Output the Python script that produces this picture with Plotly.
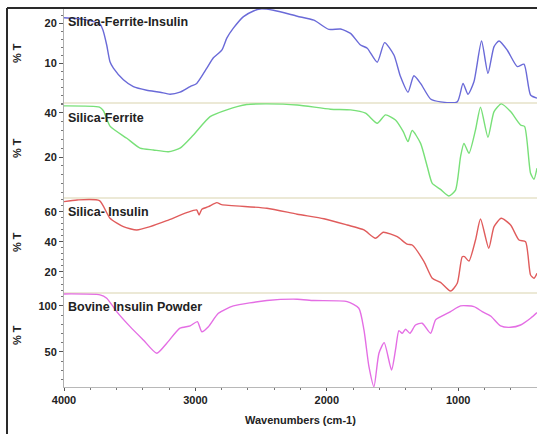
import plotly.graph_objects as go

# ---------------- data ----------------
wn_sfi = [4000, 3850, 3726, 3703, 3675, 3650, 3624, 3548, 3472, 3370, 3269, 3193, 3117, 3040, 2990,
          2913, 2863, 2799, 2761, 2711, 2634, 2558, 2507, 2406, 2225, 2098, 1984, 1895, 1819, 1743,
          1692, 1616, 1560, 1489, 1439, 1382, 1337, 1286, 1210, 1134, 1007, 963, 925, 880, 822, 773,
          727, 689, 626, 550, 499, 449, 400]
t_sfi = [21.3, 20.9, 19.7, 18.2, 14.5, 10.3, 8.7, 5.8, 4.1, 3.2, 2.7, 2.2, 2.7, 4.1, 4.9,
         8.7, 11.3, 13.2, 16.2, 18.7, 21.6, 23.0, 23.5, 23.2, 21.7, 20.7, 18.4, 18.5, 17.4, 14.5,
         13.7, 10.2, 15.1, 12.0, 6.6, 2.7, 6.8, 4.9, 1.0, 0.3, 0.3, 4.9, 2.2, 5.3, 15.5, 7.4,
         14.1, 15.5, 13.2, 9.1, 9.7, 2.0, 1.2]

wn_sf = [4000, 3730, 3700, 3650, 3522, 3421, 3320, 3205, 3117, 3015, 2888, 2761, 2609, 2456, 2225,
         1972, 1819, 1705, 1616, 1553, 1477, 1418, 1382, 1350, 1286, 1235, 1197, 1134, 1070, 1020,
         982, 956, 918, 868, 830, 773, 727, 672, 601, 525, 494, 449, 423, 400]
t_sf = [43.2, 42.6, 41.0, 34.0, 28.5, 24.0, 23.2, 22.4, 24.0, 30.0, 38.3, 41.4, 43.8, 44.1, 43.6,
        41.7, 41.4, 39.9, 35.3, 39.1, 36.8, 31.5, 27.0, 32.0, 26.2, 15.6, 8.0, 5.3, 2.3, 5.0,
        20.1, 26.2, 21.7, 32.3, 42.6, 29.0, 40.6, 44.1, 40.6, 34.5, 33.8, 12.6, 9.9, 14.9]

wn_si = [4000, 3900, 3730, 3650, 3548, 3446, 3345, 3218, 3066, 2990, 2972, 2951, 2901, 2837, 2800,
         2456, 2225, 2022, 1845, 1717, 1629, 1570, 1464, 1388, 1350, 1260, 1197, 1134, 1058, 1007,
         969, 951, 918, 868, 830, 767, 727, 672, 601, 537, 487, 449, 423, 400]
t_si = [66.9, 68.0, 67.5, 55.8, 50.2, 48.0, 50.2, 54.2, 59.5, 61.3, 58.0, 61.8, 63.5, 66.2, 64.9,
        62.5, 58.5, 55.5, 51.3, 48.0, 42.5, 46.5, 43.5, 38.5, 38.0, 26.9, 15.8, 13.1, 7.3, 12.5,
        30.2, 30.2, 27.3, 41.3, 55.3, 35.8, 50.2, 55.8, 51.3, 41.3, 40.2, 18.0, 15.8, 19.1]

wn_bi = [4000, 3726, 3675, 3599, 3497, 3396, 3294, 3218, 3117, 3040, 2985, 2951, 2901, 2825, 2711,
         2456, 2225, 2098, 1845, 1756, 1717, 1679, 1641, 1603, 1563, 1507, 1477, 1451, 1426, 1401,
         1367, 1325, 1274, 1210, 1172, 1121, 1058, 982, 880, 817, 753, 677, 601, 525, 449, 400]
t_bi = [113.0, 112.0, 108.4, 93.8, 77.5, 63.0, 48.6, 59.5, 75.8, 78.3, 83.0, 72.0, 77.5, 92.0, 100.0,
        105.8, 107.3, 105.8, 104.7, 97.5, 73.9, 34.0, 12.3, 48.6, 60.1, 30.4, 52.2, 73.2, 70.3, 74.7,
        70.3, 79.3, 81.2, 70.3, 84.8, 89.1, 93.8, 100.0, 99.2, 93.8, 89.1, 78.3, 76.8, 79.3, 86.6, 92.7]

labels = ["Silica-Ferrite-Insulin", "Silica-Ferrite", "Silica- Insulin", "Bovine Insulin Powder"]
x_ticks = [4000, 3000, 2000, 1000]
y_ticks = [[10, 20], [20, 40], [20, 40, 60], [50, 100]]
x_title = "Wavenumbers (cm-1)"
y_title = "% T"

# ---------------- figure ----------------
FONT = "Liberation Sans, Arial, sans-serif"
colors = ["#6a6ad8", "#78e078", "#e05c5c", "#e46ee4"]
series = [(wn_sfi, t_sfi), (wn_sf, t_sf), (wn_si, t_si), (wn_bi, t_bi)]
yrefs = ["y4", "y3", "y2", "y"]   # top panel uses y4

fig = go.Figure()
for (wx, wy), c, yr in zip(series, colors, yrefs):
    fig.add_trace(go.Scatter(x=wx, y=wy, mode="lines", yaxis=yr, xaxis="x",
                             line=dict(color=c, width=1.4, shape="spline", smoothing=0.6),
                             showlegend=False, hoverinfo="skip"))

tickfont = dict(family=FONT, size=11, color="#222", weight="bold")
domains = {"y": [0, 0.248], "y2": [0.248, 0.4987], "y3": [0.4987, 0.7493], "y4": [0.7493, 1]}
ranges = {"y": [12, 114], "y2": [6, 69.3], "y3": [1.4, 44.5], "y4": [0, 23.75]}
tvals = {"y": y_ticks[3], "y2": y_ticks[2], "y3": y_ticks[1], "y4": y_ticks[0]}
minors = {"y": 10, "y2": 4, "y3": 4, "y4": 2}

for key in ["y", "y2", "y3", "y4"]:
    name = "yaxis" if key == "y" else "yaxis" + key[1:]
    fig.layout[name] = dict(domain=domains[key], range=ranges[key], anchor="x",
                            tickvals=tvals[key], ticks="outside", ticklen=4, tickcolor="#555",
                            showline=True, linecolor="#b0b0b0", linewidth=1,
                            showgrid=False, zeroline=False, tickfont=tickfont,
                            minor=dict(dtick=minors[key], tick0=0, ticks="outside", ticklen=2,
                                       tickcolor="#777", showgrid=False))

fig.update_layout(
    xaxis=dict(range=[4000, 400], anchor="y", tickvals=x_ticks, ticks="outside", ticklen=3,
               tickcolor="#555", showline=True, linecolor="#b8b8b8", linewidth=1,
               showgrid=False, zeroline=False, tickfont=tickfont,
               minor=dict(dtick=200, tick0=0, ticks="outside", ticklen=2, tickcolor="#777",
                          showgrid=False)),
    width=537, height=434, autosize=False,
    margin=dict(l=64, r=0, t=8, b=47),
    paper_bgcolor="white", plot_bgcolor="white",
)

# panel separators
for yp in [0.7493, 0.4987, 0.248]:
    fig.add_shape(type="line", xref="paper", yref="paper", x0=0, x1=1, y0=yp, y1=yp,
                  line=dict(color="#e6e2c8", width=1.5), layer="below")
# outer frame (top and left)
fig.add_shape(type="line", xref="paper", yref="paper", x0=-0.1205, x1=1.01, y0=1, y1=1,
              line=dict(color="#2a2a2a", width=2))
fig.add_shape(type="line", xref="paper", yref="paper", x0=-0.1205, x1=-0.1205, y0=1, y1=-0.13,
              line=dict(color="#2a2a2a", width=2))

# panel labels
lab_y = [0.963, 0.7098, 0.4617, 0.211]
for txt, yy in zip(labels, lab_y):
    fig.add_annotation(text=txt, xref="paper", yref="paper", x=0.005, y=yy, xanchor="left",
                       yanchor="middle", showarrow=False,
                       font=dict(family=FONT, size=12.5, color="#222", weight="bold"))
# % T labels
for yy in [0.881, 0.6306, 0.3826, 0.1372]:
    fig.add_annotation(text=y_title, xref="paper", yref="paper", x=-0.0994, y=yy,
                       xanchor="center", yanchor="middle", textangle=-90, showarrow=False,
                       font=dict(family=FONT, size=11, color="#222", weight="bold"))
# x title
fig.add_annotation(text=x_title, xref="paper", yref="paper", x=0.499, y=-0.087,
                   xanchor="center", yanchor="middle", showarrow=False,
                   font=dict(family=FONT, size=11, color="#222", weight="bold"))

fig.write_html("out.html")
